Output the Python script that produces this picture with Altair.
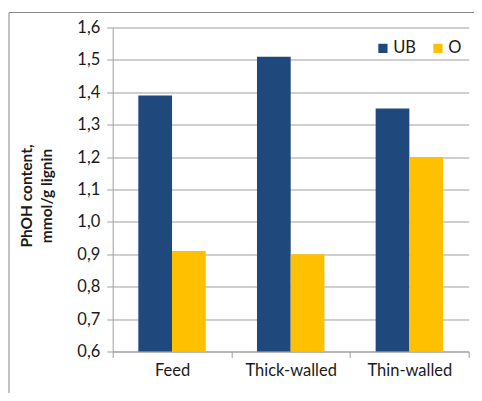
import altair as alt
import pandas as pd

categories = ["Feed", "Thick-walled", "Thin-walled"]
series = ["UB", "O"]
ub_values = [1.39, 1.51, 1.35]
o_values = [0.91, 0.90, 1.20]
y_ticks = [0.6, 0.7, 0.8, 0.9, 1.0, 1.1, 1.2, 1.3, 1.4, 1.5, 1.6]
colors = ["#1F497D", "#FFC000"]

rows = []
for c, u, o in zip(categories, ub_values, o_values):
    rows.append({"category": c, "series": "UB", "value": u})
    rows.append({"category": c, "series": "O", "value": o})
df = pd.DataFrame(rows)

FONT = "Lato"
FS = 16.5
TXT = "#1a1a1a"
GRAY = "#a0a0a0"
W, H = 356, 324

bars = alt.Chart(df).mark_bar(clip=False).encode(
    x=alt.X("category:N", sort=categories,
            scale=alt.Scale(paddingInner=0, paddingOuter=0),
            axis=alt.Axis(title=None, labelAngle=0, tickBand="extent",
                          tickSize=6, tickColor=GRAY, domainColor=GRAY,
                          labelFont=FONT, labelFontSize=FS, labelColor=TXT,
                          labelPadding=5, grid=False)),
    xOffset=alt.XOffset("series:N", sort=series,
                        scale=alt.Scale(domain=series, paddingInner=0, paddingOuter=0.76)),
    y=alt.Y("value:Q",
            scale=alt.Scale(domain=[0.6, 1.6], zero=False, nice=False),
            axis=alt.Axis(values=y_ticks,
                          labelExpr="replace(format(datum.value, '.1f'), '.', ',')",
                          title=["PhOH content,", "mmol/g lignin"],
                          titleFont=FONT, titleFontSize=15.5, titleFontWeight="bold",
                          titleColor=TXT, titleAngle=-90, titleAlign="center",
                          titleBaseline="middle", titleX=-86, titleY=168,
                          titleLineHeight=20,
                          labelFont=FONT, labelFontSize=FS, labelColor=TXT,
                          labelPadding=7, tickSize=6, tickColor=GRAY,
                          domainColor=GRAY, gridColor=GRAY, grid=True)),
    y2=alt.datum(0.6),
    color=alt.Color("series:N",
                    scale=alt.Scale(domain=series, range=colors),
                    legend=alt.Legend(title=None, orient="none", legendX=262,
                                      legendY=12.5, direction="horizontal",
                                      symbolType="square", symbolSize=85,
                                      symbolStrokeWidth=0, labelFont=FONT,
                                      labelFontSize=FS, labelColor=TXT,
                                      labelOffset=2, columnPadding=13, padding=0)),
)

border = alt.Chart(alt.Data(values=[{"k": 1}])).mark_rect(
    filled=False, stroke="#888888", strokeWidth=1, clip=False
).encode(
    x=alt.value(-103.7), x2=alt.value(W + 40),
    y=alt.value(-15), y2=alt.value(H + 80),
)

chart = alt.layer(border, bars).properties(
    width=W, height=H,
    autosize=alt.AutoSizeParams(type="none"),
    padding={"left": 104.7, "top": 19.5, "right": 5, "bottom": 41},
    background="white",
).configure_view(stroke=None)

chart.save("out.html", embed_options={"renderer": "svg", "actions": False})
